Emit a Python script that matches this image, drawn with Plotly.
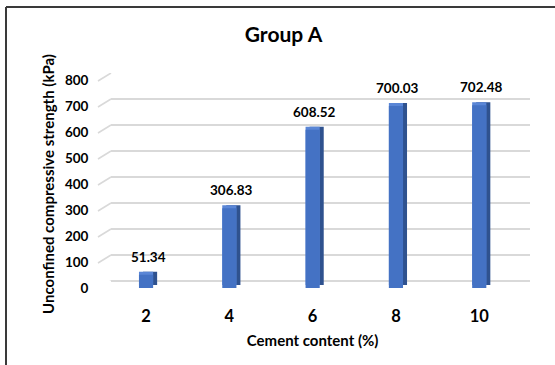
import plotly.graph_objects as go

# Unconfined compressive strength by cement content
cement = ["2", "4", "6", "8", "10"]
ucs = [51.34, 306.83, 608.52, 700.03, 702.48]
y_ticks = [0, 100, 200, 300, 400, 500, 600, 700, 800]

W, H = 555, 365
FONT = "Lato"
BLUE = "#4472C4"
BLUE_SIDE = "#2F528F"
BLUE_TOP = "#5A86D6"
GRID = "#D9D9D9"


def fx(p):
    return p / W


def fy(p):
    return 1 - p / H


# front plane of the 3D box (pixel bounds), back wall offset, bar depth
FRONT_X = (104.4, 520.9)
FRONT_Y = (288.0, 80.0)      # pixel rows of 0 and 800
BACK_X = (111.0, 530.0)
BACK_Y = (281.0, 73.0)
DEPTH_X, DEPTH_Y = 4, 3

fig = go.Figure()

# back wall gridlines (subplot 1)
fig.add_trace(go.Scatter(x=[0], y=[0], mode="markers", marker=dict(opacity=0),
                         hoverinfo="skip", showlegend=False, xaxis="x", yaxis="y"))

# side face, top face, front face of each column
layers = [
    ("x2", "y2", BLUE_SIDE, DEPTH_X, DEPTH_Y),
    ("x3", "y3", BLUE_TOP, 0, DEPTH_Y),
    ("x4", "y4", BLUE, 0, 0),
]
for xa, ya, col, _, _ in layers:
    fig.add_trace(go.Bar(x=cement, y=ucs, marker=dict(color=col, line=dict(width=0)),
                         width=0.17, xaxis=xa, yaxis=ya, showlegend=False,
                         hoverinfo="skip"))

layout = dict(
    width=W, height=H,
    margin=dict(l=0, r=0, t=0, b=0, pad=0, autoexpand=False),
    paper_bgcolor="white", plot_bgcolor="rgba(0,0,0,0)",
    showlegend=False,
    font=dict(family=FONT, color="#000000"),
    title=dict(text="<b>Group A</b>", x=283.5 / W, xanchor="center",
               y=fy(35), yanchor="middle", font=dict(size=21, family=FONT, color="#000")),
)

layout["xaxis"] = dict(domain=[fx(BACK_X[0]), fx(BACK_X[1])], range=[0, 1],
                       showgrid=False, zeroline=False, showticklabels=False,
                       anchor="y", automargin=False)
layout["yaxis"] = dict(domain=[fy(BACK_Y[0]), fy(BACK_Y[1])], range=[0, 800],
                       tickvals=y_ticks, showgrid=True, gridcolor=GRID, gridwidth=1.6,
                       zeroline=True, zerolinecolor=GRID, zerolinewidth=1.6,
                       showticklabels=False, anchor="x", automargin=False)

for xa, ya, col, dx, dy in layers:
    n = xa[1:]
    front = n == "4"
    layout["xaxis" + n] = dict(
        domain=[fx(FRONT_X[0] + dx), fx(FRONT_X[1] + dx)],
        range=[-0.5, 4.5], type="category", anchor="y" + n,
        showgrid=False, zeroline=False, showline=False, ticks="",
        showticklabels=front, automargin=False,
        tickfont=dict(size=16.5, family=FONT, color="#000", weight="bold"),
        ticklabelstandoff=16,
    )
    layout["yaxis" + n] = dict(
        domain=[fy(FRONT_Y[0] - dy), fy(FRONT_Y[1] - dy)],
        range=[0, 800], anchor="x" + n,
        showgrid=False, zeroline=False, showline=False, ticks="",
        tickvals=y_ticks, showticklabels=front, automargin=False,
        tickfont=dict(size=13.5, family=FONT, color="#000", weight="bold"),
        ticklabelstandoff=15,
    )
    if front:
        layout["xaxis" + n]["title"] = dict(
            text="<b>Cement content (%)</b>", standoff=10,
            font=dict(size=15, family=FONT, color="#000"))
        layout["yaxis" + n]["title"] = dict(
            text="<b>Unconfined compressive strength (kPa)</b>", standoff=6,
            font=dict(size=15, family=FONT, color="#000"))

fig.update_layout(**layout)

# slanted floor-to-wall stubs at each gridline
for v in y_ticks:
    fig.add_shape(type="line", xref="paper", x0=fx(98), x1=fx(BACK_X[0]),
                  yref="y", ysizemode="pixel", yanchor=v, y0=-8, y1=0,
                  line=dict(color=GRID, width=1.6), layer="below")

# value labels above each column
for i, v in enumerate(ucs):
    fig.add_annotation(x=i, y=v, xref="x4", yref="y4", text=f"<b>{v:.2f}</b>",
                       showarrow=False, yanchor="bottom", yshift=8, xshift=2,
                       font=dict(size=13.5, family=FONT, color="#000"))

# chart frame: top and left edges
fig.add_shape(type="line", xref="paper", yref="paper",
              x0=fx(6), x1=1, y0=fy(7), y1=fy(7),
              line=dict(color="#3A3A3A", width=2))
fig.add_shape(type="line", xref="paper", yref="paper",
              x0=fx(6), x1=fx(6), y0=fy(7), y1=0,
              line=dict(color="#3A3A3A", width=2))

fig.write_html("out.html")
